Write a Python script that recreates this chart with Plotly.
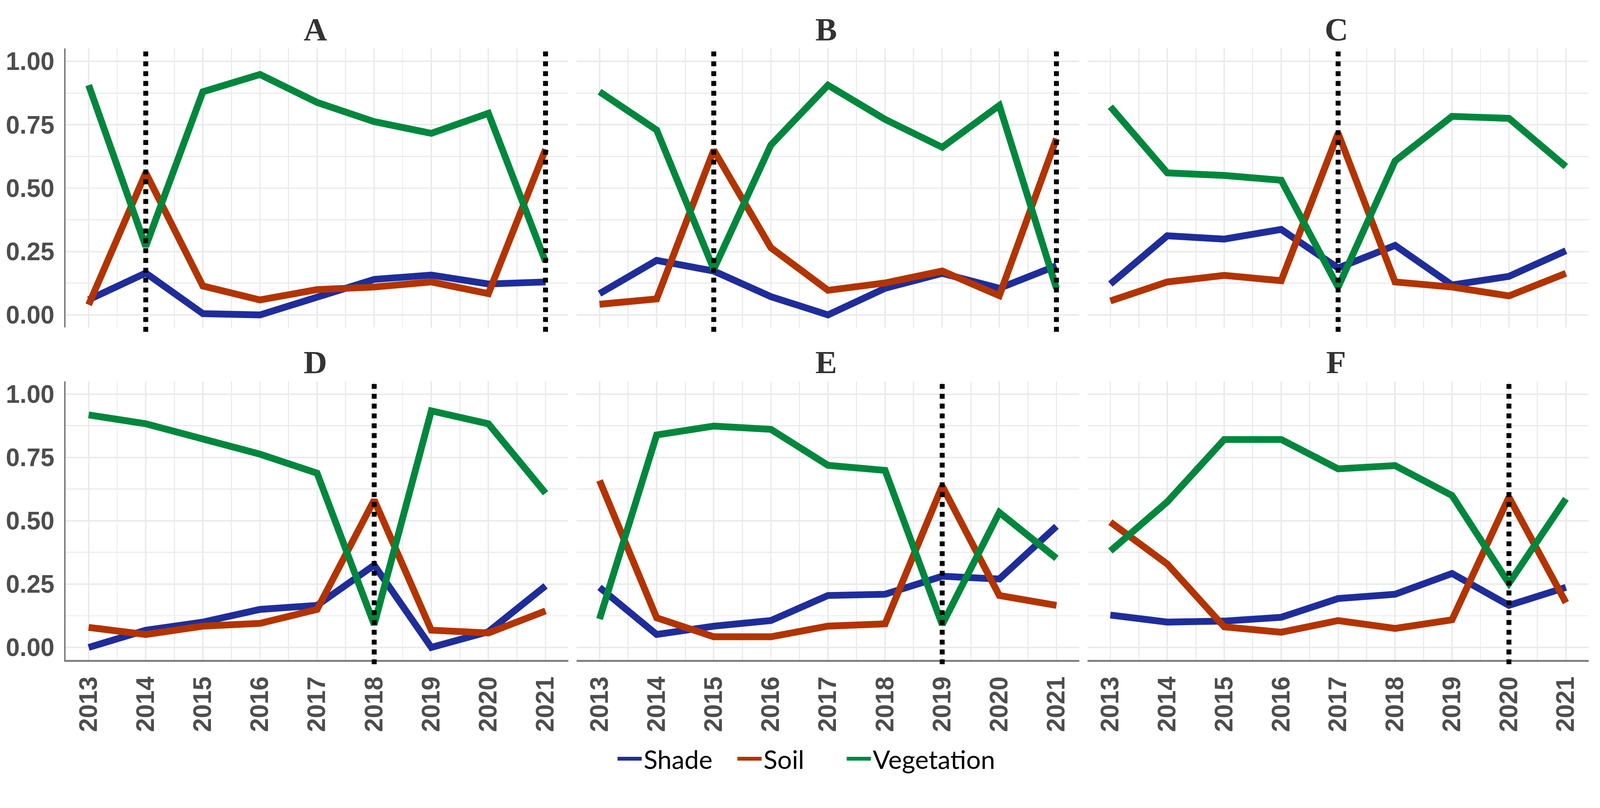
import plotly.graph_objects as go

W, H = 4231, 2068

years = [2013, 2014, 2015, 2016, 2017, 2018, 2019, 2020, 2021]
panels = ["A", "B", "C", "D", "E", "F"]
series_names = ["Shade", "Soil", "Vegetation"]
y_ticks = [0.0, 0.25, 0.5, 0.75, 1.0]

shade_A = [0.06, 0.165, 0.005, 0.0, 0.07, 0.14, 0.157, 0.122, 0.13]
soil_A = [0.04, 0.56, 0.114, 0.059, 0.10, 0.11, 0.13, 0.084, 0.653]
veg_A = [0.906, 0.27, 0.88, 0.948, 0.838, 0.762, 0.716, 0.795, 0.21]

shade_B = [0.084, 0.215, 0.173, 0.072, 0.0, 0.105, 0.164, 0.105, 0.194]
soil_B = [0.042, 0.063, 0.65, 0.265, 0.097, 0.126, 0.173, 0.076, 0.695]
veg_B = [0.88, 0.729, 0.18, 0.67, 0.906, 0.771, 0.661, 0.826, 0.105]

shade_C = [0.122, 0.312, 0.299, 0.337, 0.185, 0.274, 0.118, 0.152, 0.253]
soil_C = [0.055, 0.13, 0.156, 0.135, 0.716, 0.13, 0.11, 0.075, 0.164]
veg_C = [0.821, 0.56, 0.55, 0.531, 0.11, 0.607, 0.783, 0.775, 0.585]

shade_D = [0.0, 0.068, 0.10, 0.15, 0.166, 0.325, 0.0, 0.062, 0.243]
soil_D = [0.079, 0.051, 0.084, 0.095, 0.15, 0.582, 0.068, 0.057, 0.144]
veg_D = [0.918, 0.883, 0.823, 0.763, 0.688, 0.09, 0.934, 0.883, 0.609]

shade_E = [0.237, 0.051, 0.084, 0.106, 0.205, 0.21, 0.281, 0.27, 0.478]
soil_E = [0.659, 0.117, 0.042, 0.042, 0.084, 0.093, 0.637, 0.205, 0.166]
veg_E = [0.112, 0.839, 0.874, 0.861, 0.719, 0.699, 0.09, 0.533, 0.352]

shade_F = [0.128, 0.10, 0.104, 0.119, 0.193, 0.21, 0.292, 0.166, 0.237]
soil_F = [0.495, 0.329, 0.081, 0.06, 0.106, 0.075, 0.109, 0.593, 0.177]
veg_F = [0.381, 0.575, 0.821, 0.821, 0.705, 0.718, 0.6, 0.253, 0.587]

break_years = {
    "A": [2014, 2021],
    "B": [2015, 2021],
    "C": [2017],
    "D": [2018],
    "E": [2019],
    "F": [2020],
}

data = {
    "A": [shade_A, soil_A, veg_A],
    "B": [shade_B, soil_B, veg_B],
    "C": [shade_C, soil_C, veg_C],
    "D": [shade_D, soil_D, veg_D],
    "E": [shade_E, soil_E, veg_E],
    "F": [shade_F, soil_F, veg_F],
}

colors = {"Shade": "#1f2d9a", "Soil": "#b23400", "Vegetation": "#00873d"}

# layout geometry (pixels)
col_px = [(174, 1503), (1525, 2854), (2876, 4201)]
row_px = [(126, 866), (1009, 1748)]
title_py = [74, 957]
legend_px = {"Shade": 1628, "Soil": 1945, "Vegetation": 2234}
legend_ids = {"Shade": "legend", "Soil": "legend2", "Vegetation": "legend3"}


def px_x(p):
    return p / W


def px_y(p):
    return 1 - p / H


fig = go.Figure()
tick_font = dict(family="Liberation Sans", size=66, color="#4d4d4d", weight="bold")
grid_col = "#ebebeb"

layout_axes = {}
annotations = []
shapes = []
for i, pan in enumerate(panels):
    r, c = divmod(i, 3)
    k = i + 1
    xa = "x" if k == 1 else f"x{k}"
    ya = "y" if k == 1 else f"y{k}"
    for s_name, vals in zip(series_names, data[pan]):
        fig.add_trace(go.Scatter(
            x=years, y=vals, mode="lines", name=s_name,
            line=dict(color=colors[s_name], width=18),
            xaxis=xa, yaxis=ya, showlegend=(i == 0),
            legend=legend_ids[s_name], legendgroup=s_name,
        ))
    x0, x1 = col_px[c]
    y0, y1 = row_px[r]
    layout_axes[f"xaxis{k}"] = dict(
        domain=[px_x(x0), px_x(x1)], anchor=ya,
        range=[2012.6, 2021.4],
        tickmode="array", tickvals=years,
        ticktext=[str(y) for y in years],
        showticklabels=(r == 1), tickangle=-90, tickfont=tick_font,
        ticklabelstandoff=12,
        showgrid=True, gridcolor=grid_col, gridwidth=4,
        minor=dict(showgrid=True, dtick=0.5, tick0=2013, gridcolor=grid_col, gridwidth=2.5),
        zeroline=False,
        showline=(r == 1), linecolor="#808080", linewidth=5,
        fixedrange=True,
    )
    layout_axes[f"yaxis{k}"] = dict(
        domain=[px_y(y1), px_y(y0)], anchor=xa,
        range=[-0.05, 1.05],
        tickmode="array", tickvals=y_ticks,
        ticktext=[f"{v:.2f}" for v in y_ticks],
        showticklabels=(c == 0), tickfont=tick_font,
        ticklabelstandoff=12,
        showgrid=True, gridcolor=grid_col, gridwidth=4,
        minor=dict(showgrid=True, dtick=0.125, tick0=0, gridcolor=grid_col, gridwidth=2.5),
        zeroline=False,
        showline=(c == 0), linecolor="#808080", linewidth=5,
        fixedrange=True,
    )
    annotations.append(dict(
        text=f"<b>{pan}</b>", xref="paper", yref="paper",
        x=px_x((x0 + x1) / 2 - 5), y=px_y(title_py[r]),
        xanchor="center", yanchor="middle", showarrow=False,
        font=dict(family="Liberation Serif", size=86, color="#333333"),
    ))
    for by in break_years[pan]:
        shapes.append(dict(
            type="line", xref=xa, yref=f"{ya} domain",
            x0=by, x1=by, y0=-0.015, y1=1.0,
            line=dict(color="black", width=13, dash="dot"),
            layer="above",
        ))

legends = {}
for s_name in series_names:
    legends[legend_ids[s_name]] = dict(
        orientation="h", x=px_x(legend_px[s_name]), y=px_y(2010),
        xanchor="left", yanchor="middle",
        font=dict(family="Lato", size=68, color="black"),
        itemwidth=64, bgcolor="rgba(0,0,0,0)",
    )

fig.update_layout(
    width=W, height=H,
    margin=dict(l=0, r=0, t=0, b=0),
    paper_bgcolor="white", plot_bgcolor="white",
    annotations=annotations, shapes=shapes,
    showlegend=True,
    **legends,
    **layout_axes,
)

post = """
var gd = document.getElementById('{plot_id}');
document.documentElement.style.overflow = 'hidden';
document.body.style.margin = '0';
document.body.style.overflow = 'hidden';
var s = Math.min(window.innerWidth / %d, window.innerHeight / %d);
gd.style.transformOrigin = '0 0';
gd.style.transform = 'scale(' + s + ')';
""" % (W, H)

fig.write_html("out.html", post_script=post, config={"displayModeBar": False})
